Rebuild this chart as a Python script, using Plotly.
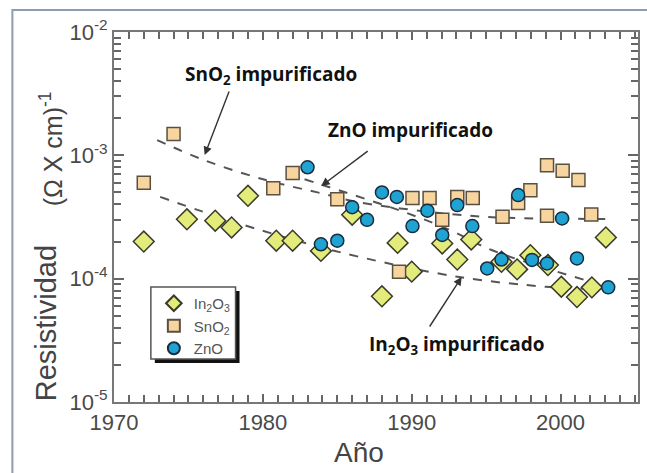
import plotly.graph_objects as go
import numpy as np

# ---------------- data ----------------
in2o3_year = [1972.0, 1974.9, 1976.8, 1977.9, 1979.0, 1980.9, 1982.0, 1983.9, 1986.0, 1988.0,
              1989.05, 1990.0, 1992.05, 1993.06, 1994.0, 1996.03, 1997.08, 1997.97, 1999.15,
              2000.05, 2001.1, 2002.1, 2003.04]
in2o3_res = [2.0e-4, 3.03e-4, 2.95e-4, 2.6e-4, 4.7e-4, 2.03e-4, 2.03e-4, 1.68e-4, 3.3e-4, 7.2e-5,
             1.95e-4, 1.14e-4, 1.93e-4, 1.43e-4, 2.08e-4, 1.37e-4, 1.19e-4, 1.55e-4, 1.29e-4,
             8.6e-5, 7.1e-5, 8.5e-5, 2.16e-4]

sno2_year = [1972.0, 1974.0, 1980.7, 1982.0, 1985.0, 1989.15, 1990.05, 1991.2, 1992.05, 1993.06,
             1994.1, 1996.1, 1997.15, 1997.97, 1999.09, 1999.09, 2000.14, 2001.2, 2002.06]
sno2_res = [6.0e-4, 1.49e-3, 5.4e-4, 7.2e-4, 4.4e-4, 1.14e-4, 4.5e-4, 4.5e-4, 3.0e-4, 4.6e-4,
            4.5e-4, 3.18e-4, 4.1e-4, 5.2e-4, 8.3e-4, 3.24e-4, 7.5e-4, 6.3e-4, 3.32e-4]

zno_year = [1983.0, 1983.9, 1985.0, 1986.0, 1987.0, 1988.0, 1989.0, 1990.05, 1991.05, 1992.05,
            1993.06, 1994.07, 1995.07, 1996.03, 1997.15, 1998.08, 1999.09, 2000.1, 2001.1, 2003.2]
zno_res = [8.0e-4, 1.9e-4, 2.03e-4, 3.8e-4, 3.0e-4, 5.0e-4, 4.6e-4, 2.67e-4, 3.56e-4, 2.26e-4,
           3.95e-4, 2.67e-4, 1.21e-4, 1.43e-4, 4.76e-4, 1.42e-4, 1.33e-4, 3.08e-4, 1.46e-4, 8.5e-5]

# dashed trend curves ("impurificado")
sno2_trend_year = [1972.9, 1976.0, 1980.2, 1984.0, 1986.3, 1991.0, 1995.4, 2003.2]
sno2_trend_res = [1.33e-3, 9.2e-4, 6.3e-4, 4.9e-4, 4.2e-4, 3.5e-4, 3.15e-4, 3.05e-4]

zno_trend_year = [1982.8, 1984.0, 1989.4, 1992.5, 1995.4, 2001.7]
zno_trend_res = [6.4e-4, 5.75e-4, 3.5e-4, 2.5e-4, 1.7e-4, 9.7e-5]

in2o3_trend_year = [1973.1, 1978.0, 1982.5, 1986.5, 1993.2, 1999.0, 2001.5]
in2o3_trend_res = [4.6e-4, 2.9e-4, 2.0e-4, 1.5e-4, 1.03e-4, 8.6e-5, 8.3e-5]

x_ticks = [1970, 1980, 1990, 2000]
y_ticks = [1e-5, 1e-4, 1e-3, 1e-2]
y_tick_text = ["10<sup>-5</sup>", "10<sup>-4</sup>", "10<sup>-3</sup>", "10<sup>-2</sup>"]

# ---------------- layout geometry ----------------
W, H = 647, 473
L, R, T, B = 114, 7, 32, 71
PW, PH = W - L - R, H - T - B


def px(x):
    return (x - L) / PW


def py(y):
    return (H - B - y) / PH


fig = go.Figure()

line_style = dict(color="#555555", width=2, dash="dash", shape="spline")
for xs, ys in [(sno2_trend_year, sno2_trend_res), (zno_trend_year, zno_trend_res),
               (in2o3_trend_year, in2o3_trend_res)]:
    fig.add_trace(go.Scatter(x=xs, y=ys, mode="lines", line=line_style,
                             showlegend=False, hoverinfo="skip"))

fig.add_trace(go.Scatter(
    x=in2o3_year, y=in2o3_res, mode="markers", name="In<sub>2</sub>O<sub>3</sub>",
    marker=dict(symbol="diamond", size=16, color="#e3ec7a",
                line=dict(color="#3a3a2a", width=1.5))))
fig.add_trace(go.Scatter(
    x=sno2_year, y=sno2_res, mode="markers", name="SnO<sub>2</sub>",
    marker=dict(symbol="square", size=13, color="#f8d59f",
                line=dict(color="#5a5040", width=1.5))))
fig.add_trace(go.Scatter(
    x=zno_year, y=zno_res, mode="markers", name="ZnO",
    marker=dict(symbol="circle", size=13, color="#1ea3d3",
                line=dict(color="#1c2c3c", width=1.5))))

minor_y = [m * 10.0 ** e for e in range(-5, -2) for m in range(2, 10)]

fig.update_xaxes(
    type="linear", range=[1970, 2005.2], tickvals=x_ticks,
    ticks="inside", ticklen=8, tickwidth=1.5, tickcolor="#666",
    showline=True, linecolor="#777", linewidth=2, mirror="allticks",
    showgrid=False, zeroline=False,
    tickfont=dict(family="Liberation Sans", size=22, color="#4a4a4a"),
    minor=dict(dtick=1, ticks="inside", ticklen=7, tickwidth=1.5, tickcolor="#666", showgrid=False),
)
fig.update_yaxes(
    type="log", range=[-5, -2], tickvals=y_ticks, ticktext=y_tick_text,
    ticks="inside", ticklen=10, tickwidth=1.5, tickcolor="#666",
    showline=True, linecolor="#777", linewidth=2, mirror="allticks",
    showgrid=False, zeroline=False,
    tickfont=dict(family="Liberation Sans", size=22, color="#4a4a4a"),
    minor=dict(tickmode="array", tickvals=minor_y, ticks="inside", ticklen=7,
               tickwidth=1.5, tickcolor="#666", showgrid=False),
)

C = dict(xref="paper", yref="paper", xanchor="center", yanchor="middle")
ann = []
# axis titles
ann.append(dict(C, x=px(360), y=py(452), text="Año", showarrow=False,
                font=dict(family="Liberation Sans", size=28, color="#444")))
ann.append(dict(C, x=px(46), y=py(323), text="Resistividad",
                textangle=-90, showarrow=False,
                font=dict(family="Liberation Sans", size=29, color="#444")))
ann.append(dict(C, x=px(51), y=py(149), text="(Ω X cm)<sup>-1</sup>", textangle=-90,
                showarrow=False, font=dict(family="Liberation Sans", size=25, color="#444")))

# labels
lab_font = dict(family="Open Sans", size=19, color="#111")
ann.append(dict(C, x=px(272), y=py(75), text="<b>SnO<sub>2</sub> impurificado</b>",
                showarrow=False, font=lab_font))
ann.append(dict(C, x=px(412), y=py(130), text="<b>ZnO impurificado</b>",
                showarrow=False, font=lab_font))
ann.append(dict(C, x=px(458), y=py(345), text="<b>In<sub>2</sub>O<sub>3</sub> impurificado</b>",
                showarrow=False, font=lab_font))

arrow = dict(showarrow=True, arrowhead=2, arrowsize=1.2, arrowwidth=1.4,
             arrowcolor="#333", text="", xref="paper", yref="paper")
ann.append(dict(arrow, x=px(205), y=py(155), ax=25, ay=-65))
ann.append(dict(arrow, x=px(322), y=py(186), ax=48, ay=-36))
ann.append(dict(arrow, x=px(463), y=py(277), ax=-33, ay=51))

shapes = [
    # outer picture border
    dict(type="rect", xref="paper", yref="paper", x0=px(12), x1=px(660), y0=py(490), y1=py(10),
         line=dict(color="#8f9bb0", width=2), fillcolor="rgba(0,0,0,0)", layer="below"),
    # legend shadow + box
    dict(type="rect", xref="paper", yref="paper", x0=px(155), x1=px(240), y0=py(363), y1=py(291),
         line=dict(color="#111", width=0), fillcolor="#111", layer="above"),
    dict(type="rect", xref="paper", yref="paper", x0=px(151), x1=px(236), y0=py(359), y1=py(287),
         line=dict(color="#555", width=1.5), fillcolor="white", layer="above"),
]

fig.update_layout(
    width=W, height=H, margin=dict(l=L, r=R, t=T, b=B),
    paper_bgcolor="white", plot_bgcolor="white",
    annotations=ann, shapes=shapes,
    legend=dict(x=px(154), y=py(287), xanchor="left", yanchor="top",
                bgcolor="rgba(0,0,0,0)", borderwidth=0, itemsizing="constant",
                font=dict(family="Liberation Sans", size=15, color="#555"),
                tracegroupgap=0, itemwidth=30),
)

fig.write_html("out.html")
